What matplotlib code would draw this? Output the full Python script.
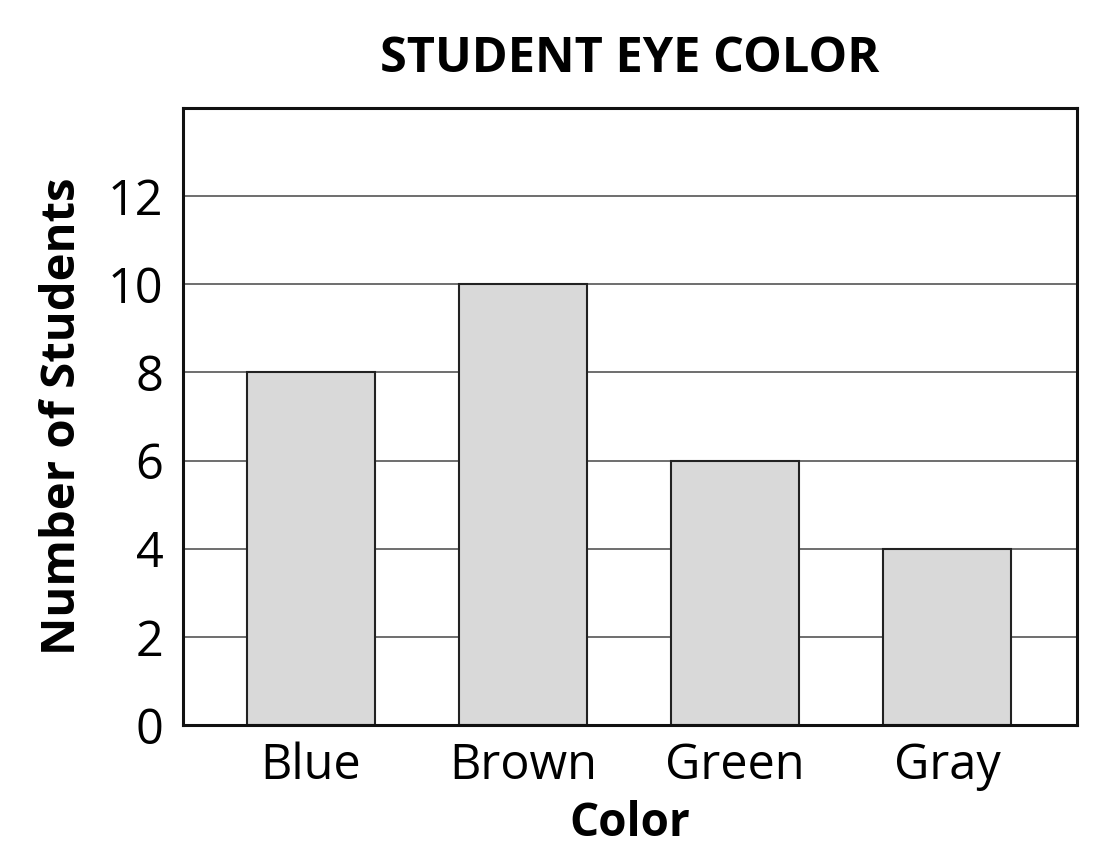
import matplotlib.pyplot as plt

plt.rcParams["font.family"] = ["Open Sans", "DejaVu Sans"]

# data
colors = ["Blue", "Brown", "Green", "Gray"]
students = [8, 10, 6, 4]
yticks = [0, 2, 4, 6, 8, 10, 12]

fig = plt.figure(figsize=(11.18, 8.68), dpi=100)
ax = fig.add_axes([183 / 1118, 1 - 725 / 868, 894 / 1118, 617 / 868])

ax.bar(range(len(colors)), students, width=0.604, color="#d9d9d9",
       edgecolor="#222222", linewidth=1.5, zorder=2)

ax.set_xlim(-0.604, 3.613)
ax.set_ylim(0, 14)
ax.set_yticks(yticks)
ax.set_xticks(range(len(colors)))
ax.set_xticklabels(colors)
ax.tick_params(axis="both", length=0, labelsize=35)
ax.tick_params(axis="y", pad=14)
ax.tick_params(axis="x", pad=12)
ax.yaxis.grid(True, color="#555555", linewidth=1.2, zorder=0)
for sp in ax.spines.values():
    sp.set_linewidth(2.2)
    sp.set_color("#111111")

ax.set_title("STUDENT EYE COLOR", fontsize=35, fontweight="bold", pad=26)
ax.set_xlabel("Color", fontsize=33, fontweight="bold", labelpad=6)
ax.set_ylabel("Number of Students", fontsize=34, fontweight="bold", labelpad=16)

fig.savefig("out.png", dpi=100)
